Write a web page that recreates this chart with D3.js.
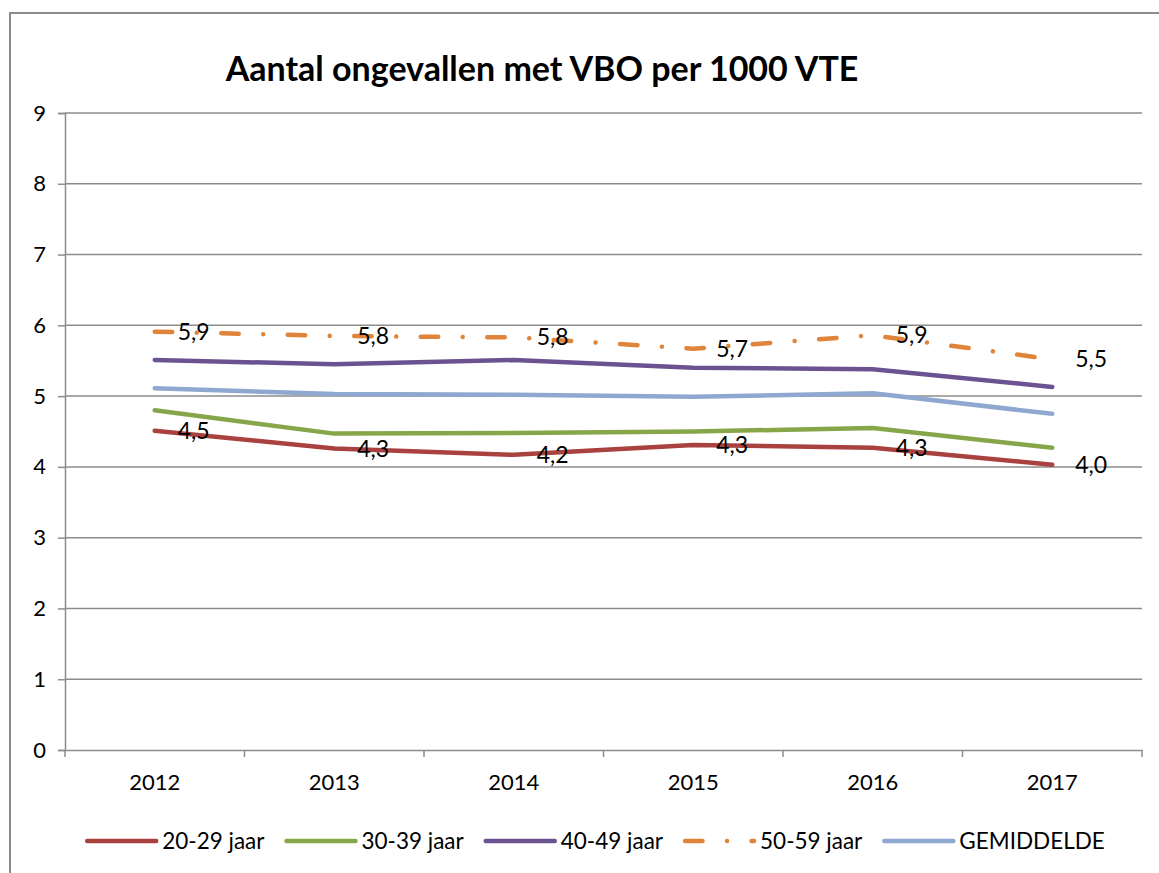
<!DOCTYPE html>
<html>
<head>
<meta charset="utf-8">
<script src="https://cdn.jsdelivr.net/npm/d3@7"></script>
<style>
  body { margin: 0; background: #fff; }
  svg { display: block; font-family: Lato, "Open Sans", sans-serif; }
</style>
</head>
<body>
<script>
// categories and series
var years = ['2012', '2013', '2014', '2015', '2016', '2017'];
var yTicks = [0, 1, 2, 3, 4, 5, 6, 7, 8, 9];

var age2029 = [4.51, 4.26, 4.17, 4.31, 4.27, 4.03];
var age3039 = [4.80, 4.47, 4.48, 4.50, 4.55, 4.27];
var age4049 = [5.51, 5.45, 5.51, 5.40, 5.38, 5.13];
var age5059 = [5.91, 5.85, 5.83, 5.67, 5.86, 5.52];
var gemiddelde = [5.11, 5.03, 5.02, 4.99, 5.04, 4.75];

var seriesNames = ['20-29 jaar', '30-39 jaar', '40-49 jaar', '50-59 jaar', 'GEMIDDELDE'];
var seriesValues = [age2029, age3039, age4049, age5059, gemiddelde];
var seriesColors = ['#a9413e', '#87a64a', '#6b5391', '#e0843a', '#8ea8cf'];
var seriesDash = [null, null, null, '17.5,24.5,0.01,24.5', null];
var seriesLabels = [true, false, false, true, false];

var width = 1159, height = 873;
var margin = {left: 65, right: 1142, top: 113, bottom: 750};

var svg = d3.select('body').append('svg')
  .attr('width', width)
  .attr('height', height);

// outer chart frame (runs past the right and bottom edge)
svg.append('rect')
  .attr('x', 10).attr('y', 13)
  .attr('width', 1170).attr('height', 900)
  .attr('fill', '#fff')
  .attr('stroke', '#8c8c8c')
  .attr('stroke-width', 2);

var x = d3.scaleBand().domain(years).range([margin.left, margin.right]).paddingInner(0).paddingOuter(0);
var y = d3.scaleLinear().domain([0, 9]).range([margin.bottom, margin.top]);
var cx = function(d) { return x(d) + x.bandwidth() / 2; };

// gridlines
svg.append('g').selectAll('line')
  .data(yTicks.filter(function(t) { return t > 0; }))
  .enter().append('line')
  .attr('x1', margin.left).attr('x2', margin.right)
  .attr('y1', function(d) { return y(d); })
  .attr('y2', function(d) { return y(d); })
  .attr('stroke', '#8c8c8c')
  .attr('stroke-width', 1.5);

// y axis
var yAxis = svg.append('g')
  .attr('transform', 'translate(' + margin.left + ',0)')
  .call(d3.axisLeft(y).tickValues(yTicks).tickSize(7).tickPadding(12).tickFormat(d3.format('d')));

// x axis
var xAxis = svg.append('g')
  .attr('transform', 'translate(0,' + margin.bottom + ')')
  .call(d3.axisBottom(x).tickSize(0).tickPadding(24));

// category boundary ticks
svg.append('g').selectAll('line')
  .data(years.map(function(d) { return x(d); }).concat([margin.right]))
  .enter().append('line')
  .attr('x1', function(d) { return d; }).attr('x2', function(d) { return d; })
  .attr('y1', margin.bottom).attr('y2', margin.bottom + 7)
  .attr('stroke', '#8c8c8c').attr('stroke-width', 1.5);

[yAxis, xAxis].forEach(function(ax) {
  ax.select('.domain').attr('stroke', '#8c8c8c').attr('stroke-width', 1.5);
  ax.selectAll('.tick line').attr('stroke', '#8c8c8c').attr('stroke-width', 1.5);
  ax.selectAll('.tick text').attr('fill', '#000').style('font-size', '22px').style('font-family', 'Lato');
});

// title
svg.append('text')
  .attr('x', 542).attr('y', 81)
  .attr('text-anchor', 'middle')
  .style('font-size', '34px')
  .style('font-weight', 'bold')
  .text('Aantal ongevallen met VBO per 1000 VTE');

// series lines
var line = d3.line()
  .x(function(d, i) { return cx(years[i]); })
  .y(function(d) { return y(d); });

var order = [4, 1, 0, 2, 3];
order.forEach(function(s) {
  svg.append('path')
    .datum(seriesValues[s])
    .attr('d', line)
    .attr('fill', 'none')
    .attr('stroke', seriesColors[s])
    .attr('stroke-width', 4.5)
    .attr('stroke-linecap', 'round')
    .attr('stroke-linejoin', 'round')
    .attr('stroke-dasharray', seriesDash[s]);
});

// data labels
var fmt = function(v) { return d3.format('.1f')(v).replace('.', ','); };
seriesValues.forEach(function(vals, s) {
  if (!seriesLabels[s]) return;
  svg.append('g').selectAll('text')
    .data(vals)
    .enter().append('text')
    .attr('x', function(d, i) { return cx(years[i]) + 23; })
    .attr('y', function(d) { return y(d); })
    .attr('dy', '0.35em')
    .style('font-size', '23px')
    .text(fmt);
});

// legend
var legend = svg.append('g');
var lx = 0;
seriesNames.forEach(function(name, s) {
  var g = legend.append('g').attr('transform', 'translate(' + lx + ',0)');
  g.append('line')
    .attr('x1', 2).attr('x2', 71)
    .attr('y1', 0).attr('y2', 0)
    .attr('stroke', seriesColors[s])
    .attr('stroke-width', 4.5)
    .attr('stroke-linecap', 'round')
    .attr('stroke-dasharray', seriesDash[s] ? '17.5,24.5,0.01,24.5' : null);
  var t = g.append('text')
    .attr('x', 77).attr('y', 0).attr('dy', '0.35em')
    .style('font-size', '22.5px')
    .text(name);
  lx += 77 + t.node().getComputedTextLength() + 20;
});
var legendW = lx - 20;
legend.attr('transform', 'translate(' + (595 - legendW / 2) + ',841)');
</script>
</body>
</html>
